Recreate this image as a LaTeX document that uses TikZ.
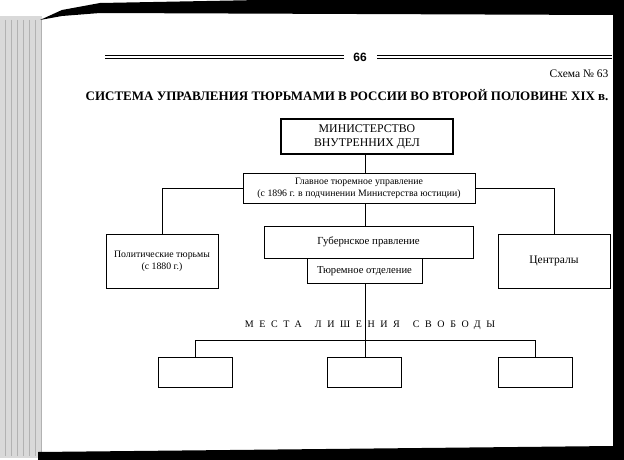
\documentclass[tikz,border=0pt]{standalone}
\usepackage{fontspec}
\setmainfont{Liberation Serif}
\newfontfamily\pagefont{Liberation Sans}
\newfontfamily\sparsefont[LetterSpace=56]{Liberation Serif}
\usetikzlibrary{positioning}
\tikzset{
  unit/.style={draw,line width=0.6pt,inner sep=0pt,align=center,
               font=\fontsize{10}{12}\selectfont},
  topunit/.style={unit,line width=1.3pt,font=\fontsize{11.8}{14}\selectfont},
  blank/.style={draw,line width=0.6pt,inner sep=0pt,minimum width=74pt,minimum height=30pt},
  link/.style={line width=0.6pt},
  rulethick/.style={line width=1.6pt},
  rulethin/.style={line width=0.5pt}
}

\begin{document}
\begin{tikzpicture}[x=1pt,y=-1pt]
  \useasboundingbox (0,0) rectangle (624,460);
  % scan edges
  \fill[gray!30] (0,16) rectangle (42,458);
  \foreach \x in {5,11,...,41}
    \draw[gray!60,line width=0.5pt] (\x,20) -- (\x,456);
  \fill[black] (40,20) -- (62,10) -- (100,3) -- (260,0) -- (624,0) -- (624,460)
    -- (38,460) -- (38,452) -- (613,446) -- (613,15) -- (100,13) -- (62,16) -- cycle;
  % page head
  \node[font=\pagefont\bfseries\fontsize{12}{14}\selectfont] (page) at (360,57) {66};
  \draw[rulethick] (105,55.5) -- (344,55.5);
  \draw[rulethin] (105,58.5) -- (344,58.5);
  \draw[rulethick] (377,55.5) -- (612,55.5);
  \draw[rulethin] (377,58.5) -- (612,58.5);
  \node[anchor=east,font=\fontsize{11.5}{13}\selectfont] (scheme) at (612,74) {Схема № 63};
  \node[anchor=east,font=\bfseries\fontsize{13}{15}\selectfont] (title) at (612,95)
    {СИСТЕМА УПРАВЛЕНИЯ ТЮРЬМАМИ В РОССИИ ВО ВТОРОЙ ПОЛОВИНЕ XIX в.};
  % chart
  \coordinate (axis) at (365,0);
  \node[topunit,minimum width=172pt,minimum height=35pt] (mvd) at (367,136.5)
    {МИНИСТЕРСТВО\\ВНУТРЕННИХ ДЕЛ};
  \node[unit,minimum width=232pt,minimum height=30pt,font=\fontsize{9.8}{12}\selectfont] (gtu) at (359,188)
    {Главное тюремное управление\\(с 1896 г. в подчинении Министерства юстиции)};
  \node[unit,minimum width=209pt,minimum height=32pt,font=\fontsize{10.8}{13}\selectfont] (gub) at (368.5,242)
    {Губернское правление};
  \node[unit,minimum width=115pt,minimum height=25pt,below=0pt of gub,xshift=-4pt,
        font=\fontsize{10.6}{13}\selectfont] (otd)
    {Тюремное отделение};
  \node[unit,minimum width=112pt,minimum height=54pt,font=\fontsize{9.8}{12}\selectfont] (polit) at (162,261)
    {Политические тюрьмы\\(с 1880 г.)};
  \node[unit,minimum width=112pt,minimum height=54pt,font=\fontsize{11.5}{13}\selectfont] (centr) at (554,261) {Централы};
  \node[font=\sparsefont\fontsize{10}{12}\selectfont] (places) at (370,325)
    {МЕСТА\hspace{5pt} ЛИШЕНИЯ\hspace{5pt} СВОБОДЫ};
  \node[blank] (pl1) at (195.5,372) {};
  \node[blank] (pl2) at (364.5,372) {};
  \node[blank] (pl3) at (535.5,372) {};
  \coordinate (bar) at (0,340);
  \draw[link] (mvd.south -| axis) -- (gtu.north -| axis);
  \draw[link] (gtu.south -| axis) -- (gub.north -| axis);
  \draw[link] (gtu.west) -| (polit.north);
  \draw[link] (gtu.east) -| (centr.north);
  \draw[link] (otd.south -| axis) -- (pl2.north -| axis);
  \draw[link] (pl1.north) |- (pl3.north |- bar) -- (pl3.north);
\end{tikzpicture}
\end{document}
